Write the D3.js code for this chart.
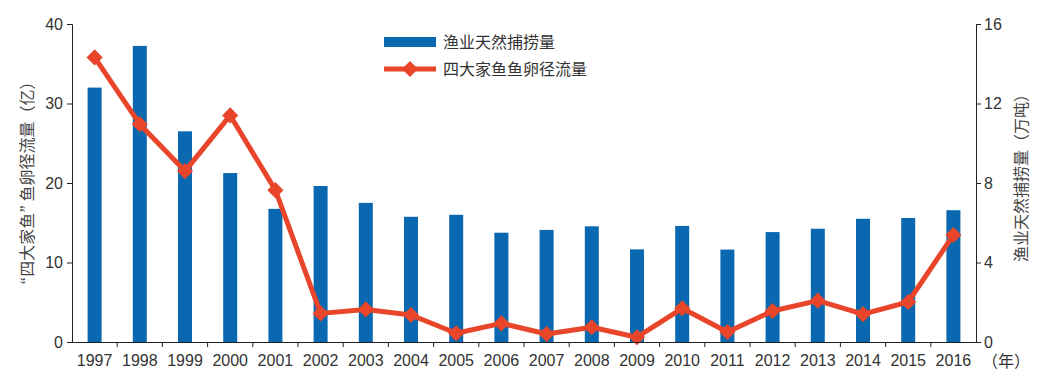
<!DOCTYPE html>
<html><head><meta charset="utf-8">
<script src="https://cdn.jsdelivr.net/npm/d3@7"></script>
<style>
html,body{margin:0;padding:0;background:#fff;}
svg{display:block;font-family:"Liberation Sans",Arial,"Noto Sans CJK SC",sans-serif;}
</style></head>
<body>
<svg id="chart" width="1039" height="379"></svg>
<script>
const years = ["1997","1998","1999","2000","2001","2002","2003","2004","2005","2006","2007","2008","2009","2010","2011","2012","2013","2014","2015","2016"];
// 渔业天然捕捞量 (万吨), right axis
const catchValues = [12.8,14.9,10.6,8.5,6.7,7.85,7.0,6.3,6.4,5.5,5.64,5.82,4.66,5.84,4.65,5.53,5.7,6.2,6.24,6.63];
// 四大家鱼鱼卵径流量 (亿), left axis
const eggValues = [35.8,27.4,21.5,28.5,19.1,3.6,4.1,3.4,1.1,2.35,1.0,1.85,0.6,4.24,1.26,3.9,5.2,3.5,5.03,13.46];
const leftTicks = [0,10,20,30,40];
const rightTicks = [0,4,8,12,16];
const seriesNames = ["渔业天然捕捞量","四大家鱼鱼卵径流量"];
const leftTitle = "“四大家鱼” 鱼卵径流量（亿）";
const rightTitle = "渔业天然捕捞量（万吨）";
const yearUnit = "（年）";

const blue = "#0a68b0", red = "#e8452a", textCol = "#333";
const L = 72, R = 976, T = 24, B = 342;
const svg = d3.select("#chart");

const x = d3.scaleBand().domain(years).range([L, R]).padding(0);
const yL = d3.scaleLinear().domain([0, 40]).range([B, T]);
const yR = d3.scaleLinear().domain([0, 16]).range([B, T]);
const bw = 14;

// bars
svg.append("g").selectAll("rect").data(years).join("rect")
  .attr("x", d => x(d) + x.bandwidth()/2 - bw/2)
  .attr("y", (d,i) => yR(catchValues[i]))
  .attr("width", bw)
  .attr("height", (d,i) => B - yR(catchValues[i]))
  .attr("fill", blue);

// line
const line = d3.line().x((d,i) => x(years[i]) + x.bandwidth()/2).y(d => yL(d));
svg.append("path").datum(eggValues).attr("d", line)
  .attr("fill","none").attr("stroke", red).attr("stroke-width",5).attr("stroke-linejoin","round");
svg.append("g").selectAll("path").data(eggValues).join("path")
  .attr("d", d3.symbol().type(d3.symbolSquare).size(130))
  .attr("transform", (d,i) => `translate(${x(years[i]) + x.bandwidth()/2},${yL(d)}) rotate(45)`)
  .attr("fill", red);

// axes
const fs = 16;
const xAxis = svg.append("g").attr("transform", `translate(0,${B})`)
  .call(d3.axisBottom(x).tickSize(0).tickPadding(10));
xAxis.select(".domain").attr("stroke","#222");
xAxis.selectAll("text").attr("font-size",fs).attr("fill",textCol).attr("dy","0.85em");
svg.append("g").selectAll("line").data(years.slice(1)).join("line")
  .attr("x1", d => x(d)).attr("x2", d => x(d)).attr("y1", B).attr("y2", B+5)
  .attr("stroke","#222");

const yAxisL = svg.append("g").attr("transform", `translate(${L},0)`)
  .call(d3.axisLeft(yL).tickValues(leftTicks).tickSize(5).tickPadding(4));
yAxisL.select(".domain").attr("stroke","#222");
yAxisL.selectAll(".tick line").attr("stroke","#222");
yAxisL.selectAll("text").attr("font-size",fs).attr("fill",textCol);

const yAxisR = svg.append("g").attr("transform", `translate(${R},0)`)
  .call(d3.axisRight(yR).tickValues(rightTicks).tickSize(5).tickPadding(3));
yAxisR.select(".domain").attr("stroke","#222");
yAxisR.selectAll(".tick line").attr("stroke","#222");
yAxisR.selectAll("text").attr("font-size",fs).attr("fill",textCol);

svg.append("text").attr("x", R+6).attr("y", 367).attr("font-size",fs).attr("fill",textCol).text(yearUnit);

// axis titles
svg.append("text").attr("transform",`translate(33,179) rotate(-90)`).attr("text-anchor","middle")
  .attr("font-family","'Noto Sans CJK JP',sans-serif")
  .attr("font-size",16).attr("fill","#444").text(leftTitle);
svg.append("text").attr("transform",`translate(1027,174) rotate(-90)`).attr("text-anchor","middle")
  .attr("font-size",16).attr("fill","#444").text(rightTitle);

// legend
const lg = svg.append("g");
lg.append("rect").attr("x",384).attr("y",37).attr("width",52).attr("height",10).attr("fill",blue);
lg.append("text").attr("x",443).attr("y",48).attr("font-size",16).attr("fill",textCol).text(seriesNames[0]);
lg.append("line").attr("x1",384).attr("x2",436).attr("y1",69).attr("y2",69).attr("stroke",red).attr("stroke-width",5);
lg.append("path").attr("d", d3.symbol().type(d3.symbolSquare).size(130)).attr("transform","translate(410,69) rotate(45)").attr("fill",red);
lg.append("text").attr("x",443).attr("y",75).attr("font-size",16).attr("fill",textCol).text(seriesNames[1]);
</script>
</body></html>
